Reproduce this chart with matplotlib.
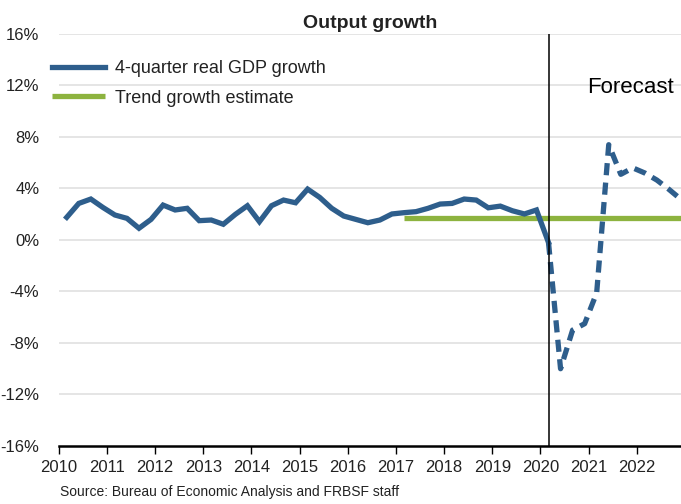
import matplotlib
matplotlib.use("Agg")
import matplotlib.pyplot as plt
import numpy as np

plt.rcParams['font.family'] = ['Liberation Sans', 'DejaVu Sans']

# Quarterly periods 2010Q1 .. 2022Q4
years = np.repeat(np.arange(2010, 2023), 4)
qtrs = np.tile(np.arange(1, 5), 13)

# 4-quarter real GDP growth, actual (2010Q1 .. 2020Q1)
actual = [1.76, 2.84, 3.18, 2.53,
          1.94, 1.68, 0.91, 1.60,
          2.71, 2.33, 2.46, 1.50,
          1.55, 1.22, 1.99, 2.66,
          1.42, 2.66, 3.10, 2.89,
          3.95, 3.31, 2.46, 1.86,
          1.60, 1.34, 1.55, 2.02,
          2.12, 2.20, 2.46, 2.79,
          2.84, 3.18, 3.10, 2.50,
          2.63, 2.27, 2.02, 2.33,
          -0.20]
# Forecast (2020Q1 .. 2022Q4)
forecast = [-0.20, -10.0, -7.0, -6.5,
            -4.1, 7.4, 5.1, 5.6,
            5.2, 4.65, 3.93, 3.15]
trend = 1.7
trend_start_year, trend_start_q = 2017, 1
forecast_year, forecast_q = 2020, 1

ytick_vals = [16, 12, 8, 4, 0, -4, -8, -12, -16]
xtick_years = list(range(2010, 2023))

# date position: first day of the quarter's last month
x_all = years + (qtrs - 1) / 4 + 2 / 12
n_act = len(actual)
x_act = x_all[:n_act]
x_fc = x_all[n_act - 1:n_act - 1 + len(forecast)]
x_trend0 = trend_start_year + (trend_start_q - 1) / 4 + 2 / 12
x_vline = forecast_year + (forecast_q - 1) / 4 + 2 / 12

blue = '#2E5E8C'
green = '#8DB33F'

fig = plt.figure(figsize=(6.81, 5.04), dpi=100)
ax = fig.add_axes([0.0862, 0.1151, 0.9138, 0.8175])

for v in ytick_vals:
    if v != -16:
        ax.axhline(v, color='#E3E3E3', lw=1.3, zorder=0)

h_trend, = ax.plot([x_trend0, x_all[-1]], [trend, trend], color=green, lw=3.8,
                   solid_capstyle='butt', zorder=2)
ln_act, = ax.plot(x_act, actual, color=blue, lw=3.8, zorder=3,
                  solid_joinstyle='miter')
ax.plot(x_fc, forecast, color=blue, lw=3.8, zorder=3,
        dashes=(2.3, 1.4), dash_capstyle='butt')
ax.axvline(x_vline, color='black', lw=1.1, zorder=4)

ax.set_xlim(2010, x_all[-1])
ax.set_ylim(-16, 16)
ax.set_yticks(ytick_vals)
ax.set_yticklabels([f'{v}%' for v in ytick_vals])
ax.set_xticks(xtick_years)
ax.set_xticklabels([str(y) for y in xtick_years])

for s in ['top', 'right', 'left']:
    ax.spines[s].set_visible(False)
ax.spines['bottom'].set_linewidth(1.8)
ax.tick_params(axis='y', length=0, labelsize=12, pad=14, colors='#222222')
ax.tick_params(axis='x', length=6, width=1, direction='out', labelsize=12,
               pad=4, colors='black', labelcolor='#222222')

ax.set_title('Output growth', fontsize=14, fontweight='bold', pad=4,
             color='#222222')

leg = fig.legend([ln_act, h_trend],
                 ['4-quarter real GDP growth', 'Trend growth estimate'],
                 loc='upper left', bbox_to_anchor=(0.066, 0.895),
                 frameon=False, fontsize=13, handlelength=2.9,
                 handletextpad=0.6, labelspacing=0.7, borderaxespad=0)
for t in leg.get_texts():
    t.set_color('#222222')

ax.text(0.988, 0.871, 'Forecast', transform=ax.transAxes, ha='right',
        va='center', fontsize=16, color='black')

fig.text(0.088, 0.01, 'Source: Bureau of Economic Analysis and FRBSF staff',
         fontsize=10, color='#222222', ha='left', va='bottom')

fig.savefig('out.png', dpi=100)
